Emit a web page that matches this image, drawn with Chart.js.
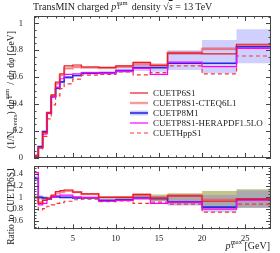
<!DOCTYPE html>
<html>
<head>
<meta charset="utf-8">
<script src="https://cdn.jsdelivr.net/npm/chart.js@4.4.0/dist/chart.umd.min.js"></script>
<style>
  body { margin: 0; width: 280px; height: 253px; position: relative; overflow: hidden; background: #fff;
         font-family: "Liberation Serif", "DejaVu Serif", serif; color: #222; }
  canvas { position: absolute; left: 0; }
  #topChart { top: 0; }
  #ratioChart { top: 158px; }
  .t { position: absolute; white-space: nowrap; }
  .ss { display: inline-block; position: relative; height: 1em; vertical-align: baseline; }
  .ss .up { position: absolute; left: 0.05em; top: -0.05em; font-size: 65%; line-height: 1; }
  .ss .dn { position: absolute; left: 0.05em; top: 0.55em; font-size: 65%; line-height: 1; }
  .rot { transform: translate(-50%, -50%) rotate(-90deg); }
  .leg { position: absolute; left: 130px; font-size: 9px; height: 10px; line-height: 10px; white-space: nowrap; }
  .leg svg { position: absolute; left: 0; top: 0; }
  .leg span { position: absolute; left: 23px; top: 0; }
</style>
</head>
<body>
<canvas id="topChart" width="280" height="166"></canvas>
<canvas id="ratioChart" width="280" height="95"></canvas>

<div class="t" style="left:33px; top:0px; font-size:10px;">TransMIN charged <i>p</i><span class="ss" style="width:1.3em"><span class="up">sum</span><span class="dn">T</span></span> density <span>&radic;<span style="text-decoration:overline"><i>s</i></span></span> = 13&thinsp;TeV</div>
<div class="t rot" style="left:11px; top:90px; font-size:9.5px;">(1/N<sub style="font-size:70%">events</sub>) d<i>p</i><span class="ss" style="width:1.3em"><span class="up">sum</span><span class="dn">T</span></span> / d<i>&eta;</i> d<i>&phi;</i> [GeV]</div>
<div class="t rot" style="left:11px; top:206px; font-size:9.5px;">Ratio to CUETP6S1</div>
<div class="t" style="right:10px; top:239px; font-size:10px;"><i>p</i><span class="ss" style="width:1.4em"><span class="up">max</span><span class="dn">T</span></span>[GeV]</div>

<div id="legend"></div>

<script>
// bordes de los bins en pT max [GeV]
const binEdges = [0.5, 1, 1.5, 2, 2.5, 3, 3.5, 4, 5, 6, 8, 10, 12, 14, 16, 20, 24, 28];

// panel superior: densidad pTsum
const cuetp6s1 = [0.012, 0.076, 0.187, 0.335, 0.468, 0.563, 0.625, 0.683, 0.690, 0.675, 0.673, 0.683, 0.710, 0.685, 0.778, 0.772, 0.844];
const cuetp8s1Cteq = [0.012, 0.080, 0.190, 0.335, 0.460, 0.550, 0.615, 0.665, 0.675, 0.672, 0.667, 0.677, 0.700, 0.690, 0.780, 0.810, 0.830];
const cuetp8s1CteqLo = [0.011, 0.078, 0.187, 0.331, 0.455, 0.545, 0.610, 0.660, 0.670, 0.667, 0.660, 0.670, 0.673, 0.678, 0.765, 0.800, 0.815];
const cuetp8s1CteqHi = [0.013, 0.082, 0.193, 0.339, 0.465, 0.555, 0.620, 0.670, 0.680, 0.677, 0.674, 0.684, 0.715, 0.700, 0.792, 0.822, 0.845];
const cuetp8m1 = [0.015, 0.084, 0.195, 0.332, 0.455, 0.517, 0.565, 0.598, 0.612, 0.629, 0.633, 0.648, 0.670, 0.670, 0.703, 0.703, 0.826];
const cuetp8m1Lo = [0.010, 0.078, 0.187, 0.322, 0.445, 0.507, 0.555, 0.588, 0.602, 0.617, 0.618, 0.630, 0.645, 0.640, 0.653, 0.629, 0.703];
const cuetp8m1Hi = [0.020, 0.090, 0.203, 0.342, 0.465, 0.527, 0.575, 0.608, 0.622, 0.641, 0.648, 0.665, 0.695, 0.700, 0.800, 0.876, 0.955];
const cuetp8s1Hera = [0.016, 0.074, 0.177, 0.332, 0.455, 0.525, 0.588, 0.621, 0.625, 0.633, 0.629, 0.645, 0.665, 0.621, 0.712, 0.678, 0.814];
const cuethpps1 = [0.020, 0.066, 0.160, 0.290, 0.394, 0.460, 0.514, 0.550, 0.585, 0.615, 0.620, 0.638, 0.616, 0.633, 0.683, 0.624, 0.757];

// panel inferior: cociente respecto a CUETP6S1
const rCuetp6s1 = [1.0, 0.90, 0.95, 0.985, 1.04, 1.10, 1.115, 1.125, 1.09, 1.06, 1.0, 1.0, 1.05, 0.985, 1.025, 0.935, 0.975];
const rCuetp8s1Cteq = [1.0, 0.92, 0.965, 0.985, 1.02, 1.075, 1.09, 1.11, 1.09, 1.055, 1.0, 1.0, 1.04, 1.0, 1.03, 0.96, 0.97];
const rCuetp8s1CteqLo = [0.99, 0.91, 0.955, 0.975, 1.01, 1.065, 1.08, 1.10, 1.08, 1.045, 0.99, 0.99, 1.0, 0.99, 1.01, 0.95, 0.955];
const rCuetp8s1CteqHi = [1.01, 0.93, 0.975, 0.995, 1.03, 1.085, 1.10, 1.12, 1.10, 1.065, 1.01, 1.01, 1.06, 1.015, 1.05, 0.975, 0.985];
const rCuetp8m1 = [1.32, 1.0, 0.99, 0.975, 1.01, 1.01, 1.0, 1.0, 0.99, 0.99, 0.95, 0.96, 0.99, 0.98, 0.925, 0.835, 0.965];
const rCuetp8m1Lo = [1.28, 0.96, 0.97, 0.955, 0.99, 0.99, 0.985, 0.985, 0.975, 0.975, 0.93, 0.935, 0.955, 0.935, 0.86, 0.75, 0.82];
const rCuetp8m1Hi = [1.36, 1.04, 1.01, 0.995, 1.03, 1.03, 1.015, 1.015, 1.005, 1.005, 0.97, 0.985, 1.025, 1.02, 1.05, 1.04, 1.115];
const rCuetp8s1Hera = [1.42, 0.875, 0.9, 0.975, 1.01, 1.025, 1.04, 1.04, 1.01, 1.0, 0.935, 0.95, 0.985, 0.9, 0.92, 0.8, 0.955];
const rCuethpps1 = [1.6, 0.79, 0.81, 0.85, 0.875, 0.9, 0.91, 0.935, 0.96, 0.97, 0.93, 0.94, 0.9, 0.92, 0.885, 0.75, 0.885];
const rRefLo = [0.97, 0.985, 0.985, 0.99, 0.99, 0.99, 0.99, 0.99, 0.99, 0.99, 0.98, 0.965, 0.96, 0.935, 0.88, 0.80, 0.825];
const rRefHi = [1.03, 1.015, 1.015, 1.01, 1.01, 1.01, 1.01, 1.01, 1.01, 1.01, 1.02, 1.025, 1.04, 1.05, 1.07, 1.11, 1.14];

// etiquetas de los ejes
const xTicks = [5, 10, 15, 20, 25];
const yTicksTop = [0, 0.2, 0.4, 0.6, 0.8, 1];
const yTicksRatio = [0.6, 0.8, 1, 1.2, 1.4];

const legendNames = ["CUETP6S1", "CUETP8S1-CTEQ6L1", "CUETP8M1", "CUETP8S1-HERAPDF1.5LO", "CUETHppS1"];

const RED = "rgb(235,25,35)";
const SALMON = "rgba(240,90,90,0.6)";
const BLUE = "rgb(40,40,230)";
const MAGENTA = "rgb(255,0,255)";
const DASHRED = "rgb(255,50,50)";
const FONT = "'Liberation Serif', 'DejaVu Serif', serif";

// histograma: un punto por borde, el último repite el valor
function hist(values) {
  return binEdges.map((e, i) => ({ x: e, y: values[Math.min(i, values.length - 1)] }));
}

function line(values, color, width, dash, order) {
  return {
    data: hist(values), borderColor: color, borderWidth: width, borderDash: dash || [],
    stepped: true, pointRadius: 0, fill: false, order: order
  };
}

function band(lo, hi, color, order) {
  return [
    { data: hist(lo), borderWidth: 0, stepped: true, pointRadius: 0, fill: false, order: order },
    { data: hist(hi), borderWidth: 0, stepped: true, pointRadius: 0, fill: "-1", backgroundColor: color, order: order }
  ];
}

// marco y marcas hacia dentro en los cuatro lados
const framePlugin = {
  id: "frame",
  afterDraw(chart, args, opts) {
    const { ctx, chartArea: a, scales } = chart;
    const x = scales.x, y = scales.y;
    ctx.save();
    ctx.strokeStyle = "#444";
    ctx.lineWidth = 1;
    ctx.beginPath();
    for (let v = 1; v < 28; v++) {
      const px = Math.round(x.getPixelForValue(v)) + 0.5;
      const len = v % 5 === 0 ? 5 : 2.5;
      ctx.moveTo(px, a.bottom); ctx.lineTo(px, a.bottom - len);
      ctx.moveTo(px, a.top); ctx.lineTo(px, a.top + len);
    }
    for (let v = opts.ymin; v <= opts.ymax + 1e-9; v += 0.05) {
      const val = Math.round(v * 100) / 100;
      if (val < y.min || val > y.max) continue;
      const py = Math.round(y.getPixelForValue(val)) + 0.5;
      const major = Math.abs(val / 0.2 - Math.round(val / 0.2)) < 1e-6;
      const len = major ? 5 : 2.5;
      ctx.moveTo(a.left, py); ctx.lineTo(a.left + len, py);
      ctx.moveTo(a.right, py); ctx.lineTo(a.right - len, py);
    }
    ctx.stroke();
    ctx.strokeRect(Math.round(a.left) + 0.5, Math.round(a.top) + 0.5,
      Math.round(a.right - a.left) - 1, Math.round(a.bottom - a.top) - 1);
    ctx.restore();
  }
};

const tickFont = { family: FONT, size: 8.5 };

new Chart(document.getElementById("topChart"), {
  type: "line",
  data: {
    datasets: [
      line(cuetp6s1, RED, 1.2, null, 1),
      line(cuetp8s1Hera, MAGENTA, 1.2, null, 2),
      line(cuethpps1, DASHRED, 1.2, [4, 3], 3),
      line(cuetp8m1, BLUE, 1.6, null, 4),
      line(cuetp8s1Cteq, SALMON, 2.4, null, 5),
      ...band(cuetp8s1CteqLo, cuetp8s1CteqHi, "rgba(210,70,100,0.35)", 8),
      ...band(cuetp8m1Lo, cuetp8m1Hi, "rgba(110,110,255,0.32)", 9)
    ]
  },
  options: {
    responsive: false, animation: false, events: [],
    layout: { padding: { left: 0, right: 9, top: 16, bottom: 8 } },
    plugins: { legend: { display: false }, tooltip: { enabled: false }, frame: { ymin: 0, ymax: 1.05 } },
    scales: {
      x: { type: "linear", min: 0.5, max: 28, display: false },
      y: {
        type: "linear", min: 0, max: 1.054,
        grid: { display: false }, border: { display: false },
        afterBuildTicks: (s) => { s.ticks = yTicksTop.map((v) => ({ value: v })); },
        afterFit: (s) => { s.width = 34; },
        ticks: { font: tickFont, color: "#222", padding: 3, callback: (v) => String(v) }
      }
    }
  },
  plugins: [framePlugin]
});

new Chart(document.getElementById("ratioChart"), {
  type: "line",
  data: {
    datasets: [
      line(rCuetp6s1, RED, 1.2, null, 1),
      line(rCuetp8s1Hera, MAGENTA, 1.2, null, 2),
      line(rCuethpps1, DASHRED, 1.2, [4, 3], 3),
      line(rCuetp8m1, BLUE, 1.6, null, 4),
      line(rCuetp8s1Cteq, SALMON, 2.4, null, 5),
      ...band(rCuetp8s1CteqLo, rCuetp8s1CteqHi, "rgba(210,70,100,0.3)", 7),
      ...band(rCuetp8m1Lo, rCuetp8m1Hi, "rgba(110,110,255,0.32)", 8),
      ...band(rRefLo, rRefHi, "rgba(150,150,40,0.55)", 9)
    ]
  },
  options: {
    responsive: false, animation: false, events: [],
    layout: { padding: { left: 0, right: 9, top: 0, bottom: 0 } },
    plugins: { legend: { display: false }, tooltip: { enabled: false }, frame: { ymin: 0.45, ymax: 1.55 } },
    scales: {
      x: {
        type: "linear", min: 0.5, max: 28,
        grid: { display: false, drawTicks: false }, border: { display: false },
        afterBuildTicks: (s) => { s.ticks = xTicks.map((v) => ({ value: v })); },
        afterFit: (s) => { s.height = 23.7; },
        ticks: { font: tickFont, color: "#222", padding: 4, maxRotation: 0, callback: (v) => String(v) }
      },
      y: {
        type: "linear", min: 0.46, max: 1.53,
        grid: { display: false }, border: { display: false },
        afterBuildTicks: (s) => { s.ticks = yTicksRatio.map((v) => ({ value: v })); },
        afterFit: (s) => { s.width = 34; },
        ticks: { font: tickFont, color: "#222", padding: 3, callback: (v) => String(v) }
      }
    }
  },
  plugins: [framePlugin]
});

// leyenda en HTML
const legendStyles = [
  { stroke: RED, width: 1.2 },
  { stroke: SALMON, width: 2.4 },
  { stroke: BLUE, width: 1.6, band: "rgba(110,110,255,0.35)" },
  { stroke: MAGENTA, width: 1.2 },
  { stroke: DASHRED, width: 1.2, dash: "4 3" }
];
const legend = document.getElementById("legend");
legendNames.forEach((name, i) => {
  const st = legendStyles[i];
  const row = document.createElement("div");
  row.className = "leg";
  row.style.top = (88 + i * 10) + "px";
  row.innerHTML =
    '<svg width="18" height="10">' +
    (st.band ? '<rect x="0" y="2.5" width="18" height="5" fill="' + st.band + '"/>' : "") +
    '<line x1="0" y1="5" x2="18" y2="5" stroke="' + st.stroke + '" stroke-width="' + st.width + '"' +
    (st.dash ? ' stroke-dasharray="' + st.dash + '"' : "") + "/></svg>" +
    "<span>" + name + "</span>";
  legend.appendChild(row);
});
</script>
</body>
</html>
